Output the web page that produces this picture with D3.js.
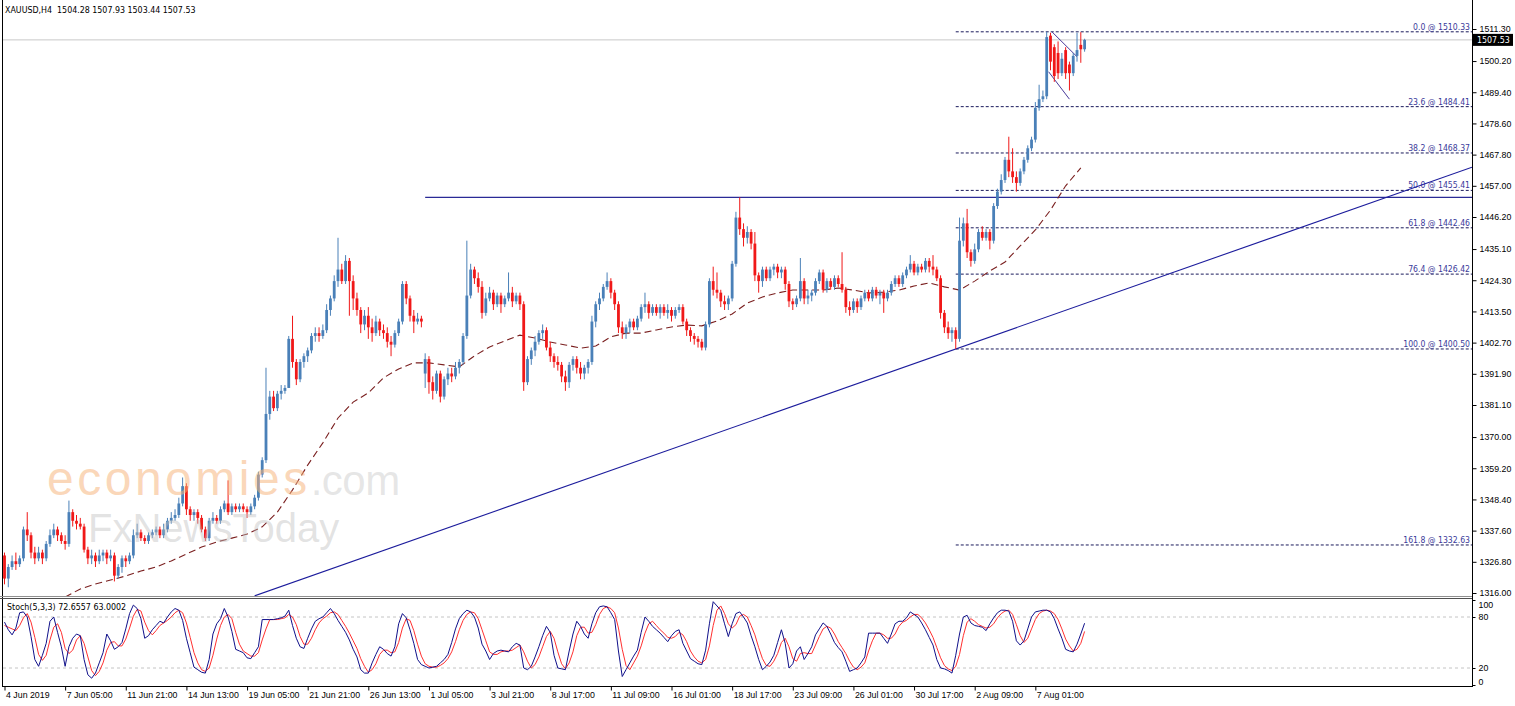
<!DOCTYPE html>
<html>
<head>
<meta charset="UTF-8">
<title>XAUUSD,H4</title>
<style>
  body { margin: 0; background: #fff; }
  svg { display: block; font-family: "DejaVu Sans Condensed", "Liberation Sans", sans-serif; }
  .axis text { font-size: 8.8px; fill: #000; }
  .axis line { stroke: #000; }
</style>
</head>
<body>
<script src="https://cdn.jsdelivr.net/npm/d3@7/dist/d3.min.js"></script>
<script>
// time axis labels (one every 16 H4 bars)
var tickBars = [0, 16, 32, 48, 64, 80, 96, 112, 128, 144, 160, 176, 192, 208, 224, 240, 256, 272];
var dateLabels = ["4 Jun 2019", "7 Jun 05:00", "11 Jun 21:00", "14 Jun 13:00", "19 Jun 05:00", "21 Jun 21:00",
  "26 Jun 13:00", "1 Jul 05:00", "3 Jul 21:00", "8 Jul 17:00", "11 Jul 09:00", "16 Jul 01:00",
  "18 Jul 17:00", "23 Jul 09:00", "26 Jul 01:00", "30 Jul 17:00", "2 Aug 09:00", "7 Aug 01:00"];
var priceTicks = [1511.30, 1500.20, 1489.40, 1478.60, 1467.80, 1457.00, 1446.20, 1435.10, 1424.30, 1413.50,
  1402.70, 1391.90, 1381.10, 1370.00, 1359.20, 1348.40, 1337.60, 1326.80, 1316.00];
var stochTicks = [100, 80, 20, 0];

var open = [
  1329,1321,1325,1327,1326,1328,1338,1336,1330,1328,
  1330,1328,1333,1336,1338,1336,1334,1333,1344,1341,
  1340,1339,1331,1328,1329,1327,1329,1330,1328,1329,
  1322,1325,1328,1327,1329,1336,1337,1335,1334,1336,
  1337,1338,1336,1338,1341,1342,1343,1347,1353,1345,
  1343,1344,1342,1338,1335,1341,1342,1341,1345,1347,
  1344,1346,1345,1346,1345,1344,1346,1349,1357,1362,
  1378,1384,1380,1385,1386,1387,1404,1396,1390,1396,
  1398,1400,1405,1406,1405,1407,1414,1418,1424,1428,
  1424,1431,1424,1418,1414,1409,1412,1408,1406,1410,
  1407,1406,1403,1402,1406,1410,1423,1418,1412,1410,
  1411,1392,1397,1389,1386,1392,1384,1390,1392,1391,
  1394,1396,1405,1419,1428,1425,1422,1413,1418,1420,
  1416,1419,1416,1418,1420,1417,1419,1416,1389,1397,
  1400,1403,1406,1407,1401,1398,1396,1395,1391,1389,
  1395,1397,1394,1392,1394,1396,1410,1416,1418,1422,
  1424,1420,1416,1408,1406,1408,1410,1408,1411,1415,
  1416,1413,1415,1413,1415,1413,1414,1412,1414,1415,
  1410,1407,1405,1404,1403,1401,1409,1424,1421,1420,
  1417,1416,1418,1430,1446,1442,1439,1441,1437,1426,
  1424,1428,1425,1428,1429,1427,1428,1423,1417,1416,
  1418,1424,1418,1419,1420,1424,1427,1421,1424,1422,
  1425,1423,1421,1415,1414,1417,1415,1418,1420,1418,
  1421,1419,1420,1418,1420,1423,1425,1423,1426,1428,
  1430,1427,1429,1428,1431,1429,1428,1425,1413,1408,
  1406,1407,1404,1438,1444,1434,1431,1435,1441,1439,
  1441,1438,1450,1455,1459,1466,1462,1460,1458,1462,
  1466,1470,1473,1484,1487,1488,1509,1505,1503,1496,
  1504,1499,1496,1502,1505.8,1504.28
];
var high = [
  1330,1326,1329,1330,1329,1339,1344,1337,1332,1332,
  1331,1334,1338,1340,1339,1337,1336,1348,1345,1343,
  1342,1340,1332,1331,1330,1331,1331,1331,1331,1330,
  1326,1329,1329,1330,1338,1340,1338,1336,1337,1338,
  1339,1339,1340,1342,1344,1345,1349,1356,1354,1346,
  1345,1345,1343,1339,1342,1344,1343,1346,1348,1355,
  1347,1347,1347,1347,1346,1347,1350,1358,1363,1394,
  1386,1386,1386,1388,1388,1405,1412,1397,1397,1399,
  1401,1406,1408,1408,1409,1416,1419,1426,1439,1430,
  1433,1432,1426,1420,1415,1414,1415,1411,1412,1411,
  1409,1408,1405,1407,1411,1424,1424,1419,1414,1413,
  1412,1399,1398,1391,1393,1393,1391,1394,1394,1396,
  1397,1406,1438,1430,1429,1427,1424,1420,1422,1421,
  1420,1420,1419,1427,1422,1420,1420,1417,1398,1401,
  1405,1407,1409,1408,1403,1399,1398,1396,1393,1396,
  1398,1398,1396,1395,1397,1412,1417,1420,1423,1427,
  1425,1421,1417,1410,1409,1411,1411,1412,1416,1420,
  1417,1416,1416,1416,1416,1416,1415,1415,1416,1416,
  1411,1408,1406,1405,1404,1410,1425,1429,1427,1421,
  1419,1419,1431,1448,1453,1444,1443,1442,1441,1427,
  1429,1429,1429,1430,1430,1429,1429,1424,1418,1419,
  1432,1425,1421,1421,1425,1428,1428,1425,1425,1426,
  1426,1434,1422,1417,1418,1418,1419,1421,1421,1422,
  1422,1421,1421,1421,1424,1426,1426,1427,1429,1433,
  1431,1430,1430,1432,1432,1433,1429,1426,1414,1410,
  1408,1408,1446,1446,1449,1435,1437,1442,1443,1442,
  1442,1451,1456,1461,1467,1474,1470,1462,1463,1467,
  1471,1474,1486,1492,1490,1510.33,1510,1506,1507,1503,
  1505,1500,1503,1510,1510.2,1507.93
];
var low = [
  1319,1318,1324,1324,1325,1327,1334,1328,1326,1327,
  1326,1327,1332,1335,1334,1333,1331,1332,1339,1338,
  1338,1330,1326,1326,1325,1326,1327,1326,1327,1320,
  1321,1323,1325,1326,1328,1335,1334,1333,1333,1335,
  1336,1335,1335,1337,1340,1341,1342,1346,1343,1341,
  1341,1340,1337,1334,1334,1340,1340,1340,1344,1343,
  1343,1344,1344,1344,1342,1343,1345,1348,1356,1361,
  1376,1379,1379,1383,1385,1387,1394,1388,1389,1394,
  1396,1399,1403,1403,1404,1406,1412,1417,1422,1423,
  1423,1412,1414,1412,1406,1407,1404,1403,1405,1405,
  1404,1401,1398,1401,1405,1409,1416,1410,1406,1409,
  1408,1387,1385,1383,1385,1382,1383,1388,1389,1390,
  1392,1395,1404,1418,1423,1420,1411,1412,1417,1414,
  1415,1413,1415,1417,1415,1416,1414,1386,1388,1395,
  1398,1402,1404,1400,1396,1394,1393,1389,1386,1387,
  1393,1392,1390,1390,1392,1395,1408,1414,1417,1421,
  1418,1414,1406,1404,1404,1406,1407,1407,1410,1413,
  1411,1412,1412,1411,1412,1411,1410,1411,1413,1409,
  1405,1403,1402,1401,1400,1400,1408,1419,1418,1415,
  1414,1414,1417,1429,1440,1436,1437,1435,1424,1420,
  1422,1424,1424,1426,1425,1425,1421,1415,1414,1415,
  1417,1416,1416,1417,1419,1423,1420,1420,1421,1421,
  1422,1420,1413,1412,1413,1413,1414,1417,1417,1417,
  1418,1416,1413,1417,1419,1422,1422,1422,1425,1427,
  1426,1426,1427,1427,1427,1426,1424,1411,1406,1404,
  1403,1400.5,1403,1436,1432,1429,1430,1434,1438,1438,
  1435,1437,1449,1454,1458,1460,1458,1455,1457,1461,
  1465,1469,1472,1483,1486,1487,1497,1493,1494,1495,
  1494,1490,1495,1500,1499.6,1503.44
];
var close = [
  1321,1325,1327,1326,1328,1338,1336,1330,1328,1330,
  1328,1333,1336,1338,1336,1334,1333,1344,1341,1340,
  1339,1331,1328,1329,1327,1329,1330,1328,1329,1322,
  1325,1328,1327,1329,1336,1337,1335,1334,1336,1337,
  1338,1336,1338,1341,1342,1343,1347,1353,1345,1343,
  1344,1342,1338,1335,1341,1342,1341,1345,1347,1344,
  1346,1345,1346,1345,1344,1346,1349,1357,1362,1378,
  1384,1380,1385,1386,1387,1404,1396,1390,1396,1398,
  1400,1405,1406,1405,1407,1414,1418,1424,1428,1424,
  1431,1424,1418,1414,1409,1412,1408,1406,1410,1407,
  1406,1403,1402,1406,1410,1423,1418,1412,1410,1411,
  1410,1397,1389,1386,1392,1384,1390,1392,1391,1394,
  1396,1405,1419,1428,1425,1422,1413,1418,1420,1416,
  1419,1416,1418,1420,1417,1419,1416,1389,1397,1400,
  1403,1406,1407,1401,1398,1396,1395,1391,1389,1395,
  1397,1394,1392,1394,1396,1410,1416,1418,1422,1424,
  1420,1416,1408,1406,1408,1410,1408,1411,1415,1416,
  1413,1415,1413,1415,1413,1414,1412,1414,1415,1410,
  1407,1405,1404,1403,1401,1409,1424,1421,1420,1417,
  1416,1418,1430,1446,1442,1439,1441,1437,1426,1424,
  1428,1425,1428,1429,1427,1428,1423,1417,1416,1418,
  1424,1418,1419,1420,1424,1427,1421,1424,1422,1425,
  1423,1421,1415,1414,1417,1415,1418,1420,1418,1421,
  1419,1420,1418,1420,1423,1425,1423,1426,1428,1430,
  1427,1429,1428,1431,1429,1428,1425,1413,1408,1406,
  1407,1404,1438,1444,1434,1431,1435,1441,1439,1441,
  1438,1450,1455,1459,1466,1462,1460,1458,1462,1466,
  1470,1473,1484,1487,1488,1508.5,1500,1495,1496,1501,
  1496,1496,1502,1504,1504.28,1507.53
];

// moving average, read every 4th bar
var maBars = [16,20,24,28,32,36,40,44,48,52,56,60,64,68,72,76,80,84,88,92,96,100,104,108,112,116,120,124,
  128,132,136,140,144,148,152,156,160,164,168,172,176,180,184,188,192,196,200,204,208,212,216,220,224,228,
  232,236,240,244,248,252,256,260,264,268,272,276,280,284];
var maValues = [1314.6,1317.4,1319.1,1320.5,1321.9,1323.6,1325.0,1327.1,1329.5,1331.9,1333.7,1335.0,1336.4,
  1338.9,1344.0,1351.7,1360.3,1368.0,1376.6,1382.1,1385.3,1390.5,1393.6,1395.7,1395.7,1395.0,1394.3,1398.1,
  1401.2,1403.3,1405.3,1404.3,1402.9,1401.9,1400.8,1401.5,1404.7,1406.0,1406.0,1407.1,1408.1,1408.8,1408.5,
  1410.2,1412.6,1416.4,1418.5,1419.9,1420.9,1420.9,1420.9,1421.6,1420.9,1419.9,1420.2,1420.9,1422.3,1423.4,
  1422.0,1420.9,1424.0,1427.5,1430.6,1436.2,1441.7,1448.6,1457.0,1463.2];

var stochMain = [
  74,65,59,67,85,86,80,57,30,22, 35,49,75,80,62,45,22,45,55,60,
  58,30,12,8,14,26,38,60,52,42, 45,50,66,84,94,90,78,55,58,65,
  70,75,73,80,86,90,88,76,55,38, 21,18,15,14,30,60,72,78,90,80,
  63,42,40,38,32,31,38,45,77,77, 77,77,78,79,81,88,70,55,45,43,
  55,66,75,78,80,85,90,84,76,69, 62,53,42,33,18,14,14,26,36,45,
  42,37,34,45,72,84,79,65,49,30, 24,22,20,21,22,26,30,36,50,66,
  78,84,88,86,80,67,48,40,30,37, 40,41,40,39,45,49,47,20,18,22,
  33,45,58,69,62,35,20,19,18,40, 60,75,69,60,55,72,85,92,93,92,
  85,77,40,10,18,26,34,41,62,80, 75,69,65,61,56,51,58,63,65,49,
  40,31,28,25,24,41,72,98,93,88, 72,57,72,84,86,80,73,58,45,30,
  18,22,27,35,50,65,49,20,25,40, 45,30,37,45,59,66,73,69,60,50,
  44,39,28,16,18,20,26,33,61,61, 61,61,55,49,60,72,75,75,79,86,
  83,80,73,65,56,47,30,20,19,17, 14,35,60,80,82,73,70,69,68,64,
  72,79,85,88,88,87,75,52,47,52, 66,80,86,87,88,88,86,78,66,55,
  42,40,39,48,60,72.6557
];
var stochSignal = [
  70,68,66,64,70,79,84,74,56,36, 29,35,53,68,72,62,43,37,41,53,
  58,49,33,17,11,16,26,41,50,51, 46,46,54,67,81,89,87,74,64,59,
  64,70,73,76,80,85,88,85,73,56, 38,26,18,16,20,35,54,70,80,83,
  78,62,48,40,37,34,34,38,53,66, 77,77,77,78,79,83,80,71,57,48,
  48,55,65,73,78,81,85,86,83,76, 69,61,52,43,31,22,15,18,25,36,
  41,41,38,39,50,67,78,76,64,48, 34,25,22,21,21,23,26,31,39,51,
  65,76,83,86,85,78,65,52,39,36, 36,39,40,40,41,44,47,39,28,20,
  24,33,45,57,63,55,39,25,19,26, 39,58,68,68,61,62,71,83,90,92,
  90,85,67,42,23,18,26,34,46,61, 72,75,70,65,61,56,55,57,62,59,
  51,40,33,28,26,30,46,70,88,93, 84,72,67,71,81,83,80,70,59,44,
  31,23,22,28,37,50,55,45,31,28, 37,38,37,37,47,57,66,69,67,60,
  51,44,37,28,21,18,21,26,40,52, 61,61,59,55,55,60,69,74,76,80,
  83,83,79,73,65,56,44,32,23,19, 17,22,36,58,74,78,75,71,69,67,
  68,72,79,84,87,88,83,71,58,50, 55,66,77,84,87,88,87,84,77,66,
  54,46,40,42,49,63.0002
];

var fibLevels = ["0.0", "23.6", "38.2", "50.0", "61.8", "76.4", "100.0", "161.8"];
var fibPrices = [1510.33, 1484.41, 1468.37, 1455.41, 1442.46, 1426.42, 1400.50, 1332.63];

var width = 1515, height = 706;
var plotLeft = 3, plotRight = 1472, priceBottom = 596, stochTop = 600, stochBottom = 686;

var svg = d3.select("body").append("svg")
  .attr("width", width)
  .attr("height", height);

svg.append("rect").attr("width", width).attr("height", height).attr("fill", "#fff");

var x = d3.scaleLinear().domain([0, 285]).range([4.5, 1084.6]);
var y = d3.scaleLinear().domain([1316, 1511.3]).range([593, 29]);
var ys = d3.scaleLinear().domain([0, 100]).range([685, 600]);
var lastBar = x.invert(plotRight);

var defs = svg.append("defs");
defs.append("clipPath").attr("id", "clipPrice")
  .append("rect").attr("x", plotLeft).attr("y", 0)
  .attr("width", plotRight - plotLeft).attr("height", priceBottom);
defs.append("clipPath").attr("id", "clipStoch")
  .append("rect").attr("x", plotLeft).attr("y", stochTop)
  .attr("width", plotRight - plotLeft).attr("height", stochBottom - stochTop);

var price = svg.append("g").attr("clip-path", "url(#clipPrice)");

// current price line
price.append("line")
  .attr("x1", plotLeft).attr("x2", plotRight)
  .attr("y1", y(close[285])).attr("y2", y(close[285]))
  .attr("stroke", "#c8c8c8");

// fibonacci levels
price.selectAll(".fib").data(fibPrices).enter().append("line")
  .attr("x1", x(251)).attr("x2", plotRight)
  .attr("y1", function(d) { return y(d); })
  .attr("y2", function(d) { return y(d); })
  .attr("stroke", "#1a1a5c")
  .attr("stroke-dasharray", "3,2");

price.selectAll(".fibText").data(fibPrices).enter().append("text")
  .attr("x", plotRight - 2)
  .attr("y", function(d) { return y(d) - 2; })
  .attr("text-anchor", "end")
  .attr("font-size", "8.6px")
  .attr("fill", "#3a3a9a")
  .text(function(d, i) { return fibLevels[i] + " @ " + d.toFixed(2); });

// resistance line and trendline
price.append("line")
  .attr("x1", x(111)).attr("x2", plotRight)
  .attr("y1", y(1453)).attr("y2", y(1453))
  .attr("stroke", "#2a2a96").attr("stroke-width", 1.2);

var trendA = [66, 1315.0], trendB = [251, 1400.5];
var slope = (trendB[1] - trendA[1]) / (trendB[0] - trendA[0]);
price.append("line")
  .attr("x1", x(trendA[0])).attr("y1", y(trendA[1]))
  .attr("x2", x(lastBar)).attr("y2", y(trendA[1] + slope * (lastBar - trendA[0])))
  .attr("stroke", "#1c1c9c").attr("stroke-width", 1.1);

// small flag lines
var flagLines = [[[276.4, 1510.3], [283, 1501.7]], [[275.5, 1496.5], [281, 1487]]];
price.selectAll(".flag").data(flagLines).enter().append("line")
  .attr("x1", function(d) { return x(d[0][0]); })
  .attr("y1", function(d) { return y(d[0][1]); })
  .attr("x2", function(d) { return x(d[1][0]); })
  .attr("y2", function(d) { return y(d[1][1]); })
  .attr("stroke", "#4a3a9a").attr("stroke-width", 1);

// moving average
price.append("path")
  .datum(maBars)
  .attr("fill", "none")
  .attr("stroke", "#7a1f1f")
  .attr("stroke-width", 1.1)
  .attr("stroke-dasharray", "7,4")
  .attr("d", d3.line()
    .x(function(d) { return x(d); })
    .y(function(d, i) { return y(maValues[i]); }));

// candles
var bars = d3.range(close.length);
var candle = price.selectAll(".candle").data(bars).enter().append("g");
candle.append("line")
  .attr("x1", function(i) { return x(i); })
  .attr("x2", function(i) { return x(i); })
  .attr("y1", function(i) { return y(high[i]); })
  .attr("y2", function(i) { return y(low[i]); })
  .attr("stroke", function(i) { return close[i] >= open[i] ? "#4a80b8" : "#f01818"; })
  .attr("stroke-width", 1);
candle.append("rect")
  .attr("x", function(i) { return x(i) - 1.4; })
  .attr("width", 2.8)
  .attr("y", function(i) { return y(Math.max(open[i], close[i])); })
  .attr("height", function(i) { return Math.max(1, Math.abs(y(open[i]) - y(close[i]))); })
  .attr("fill", function(i) { return close[i] >= open[i] ? "#4a80b8" : "#f01818"; });

// watermark
var wm = svg.append("g").attr("font-family", "'Liberation Sans', Arial, sans-serif");
var wm1 = wm.append("text").attr("x", 47).attr("y", 495).attr("font-size", "48px");
wm1.append("tspan").attr("fill", "#f7b47c").attr("fill-opacity", 0.55)
  .attr("letter-spacing", "3.5px").text("economies");
wm1.append("tspan").attr("fill", "#c8c8c8").attr("fill-opacity", 0.45)
  .attr("font-size", "42px").attr("letter-spacing", "-0.5px").text(".com");
wm.append("text").attr("x", 88).attr("y", 542).attr("font-size", "40px")
  .attr("fill", "#c0c0c0").attr("fill-opacity", 0.45).text("FxNewsToday");

// stochastic pane
var stoch = svg.append("g").attr("clip-path", "url(#clipStoch)");
stoch.selectAll(".lvl").data([80, 20]).enter().append("line")
  .attr("x1", plotLeft).attr("x2", plotRight)
  .attr("y1", function(d) { return ys(d); }).attr("y2", function(d) { return ys(d); })
  .attr("stroke", "#c4c4c4").attr("stroke-dasharray", "3,3");

var stochLine = function(arr) {
  return d3.line().x(function(d, i) { return x(i); }).y(function(d) { return ys(d); })(arr);
};
stoch.append("path").attr("d", stochLine(stochSignal))
  .attr("fill", "none").attr("stroke", "#ff3030").attr("stroke-width", 1);
stoch.append("path").attr("d", stochLine(stochMain))
  .attr("fill", "none").attr("stroke", "#10108a").attr("stroke-width", 1);

// frame
svg.append("line").attr("x1", 2.5).attr("x2", 2.5).attr("y1", 0).attr("y2", stochBottom).attr("stroke", "#000");
svg.append("line").attr("x1", plotRight + 0.5).attr("x2", plotRight + 0.5).attr("y1", 0).attr("y2", stochBottom).attr("stroke", "#000");
svg.append("line").attr("x1", 0).attr("x2", plotRight).attr("y1", 596.5).attr("y2", 596.5).attr("stroke", "#909090");
svg.append("line").attr("x1", 0).attr("x2", plotRight).attr("y1", 598.5).attr("y2", 598.5).attr("stroke", "#505050");
svg.append("line").attr("x1", 2).attr("x2", plotRight + 1).attr("y1", stochBottom + 0.5).attr("y2", stochBottom + 0.5).attr("stroke", "#000");

// price axis
var yAxis = svg.append("g").attr("class", "axis")
  .attr("transform", "translate(" + (plotRight + 0.5) + ",0)")
  .call(d3.axisRight(y).tickValues(priceTicks).tickSize(4).tickPadding(3)
    .tickFormat(function(d) { return d.toFixed(2); }));
yAxis.select(".domain").remove();

// current price tag
svg.append("rect").attr("x", plotRight + 1).attr("y", y(close[285]) - 6)
  .attr("width", 40).attr("height", 12).attr("fill", "#000");
svg.append("text").attr("x", plotRight + 5).attr("y", y(close[285]) + 3.2)
  .attr("font-size", "8.8px").attr("fill", "#fff").text(close[285].toFixed(2));

// stochastic axis
var sAxis = svg.append("g").attr("class", "axis")
  .attr("transform", "translate(" + (plotRight + 0.5) + ",0)")
  .call(d3.axisRight(ys).tickValues(stochTicks).tickSize(3).tickPadding(3));
sAxis.select(".domain").remove();
sAxis.selectAll(".tick text").attr("dy", function(d) { return d === 100 ? "0.85em" : d === 0 ? "-0.1em" : "0.32em"; });

// time axis
var xAxis = svg.append("g").attr("class", "axis")
  .attr("transform", "translate(0," + (stochBottom + 0.5) + ")")
  .call(d3.axisBottom(x).tickValues(tickBars).tickSize(4).tickPadding(1)
    .tickFormat(function(d, i) { return dateLabels[i]; }));
xAxis.select(".domain").remove();
xAxis.selectAll(".tick text").attr("text-anchor", "start").attr("dx", "1px");

// titles
svg.append("text").attr("x", 5).attr("y", 13).attr("font-size", "8.8px")
  .style("white-space", "pre")
  .text("XAUUSD,H4  " + open[285].toFixed(2) + " " + high[285].toFixed(2) + " " + low[285].toFixed(2) + " " + close[285].toFixed(2));
svg.append("text").attr("x", 7).attr("y", 610).attr("font-size", "8.8px")
  .text("Stoch(5,3,3) " + stochMain[285].toFixed(4) + " " + stochSignal[285].toFixed(4));
</script>
</body>
</html>
